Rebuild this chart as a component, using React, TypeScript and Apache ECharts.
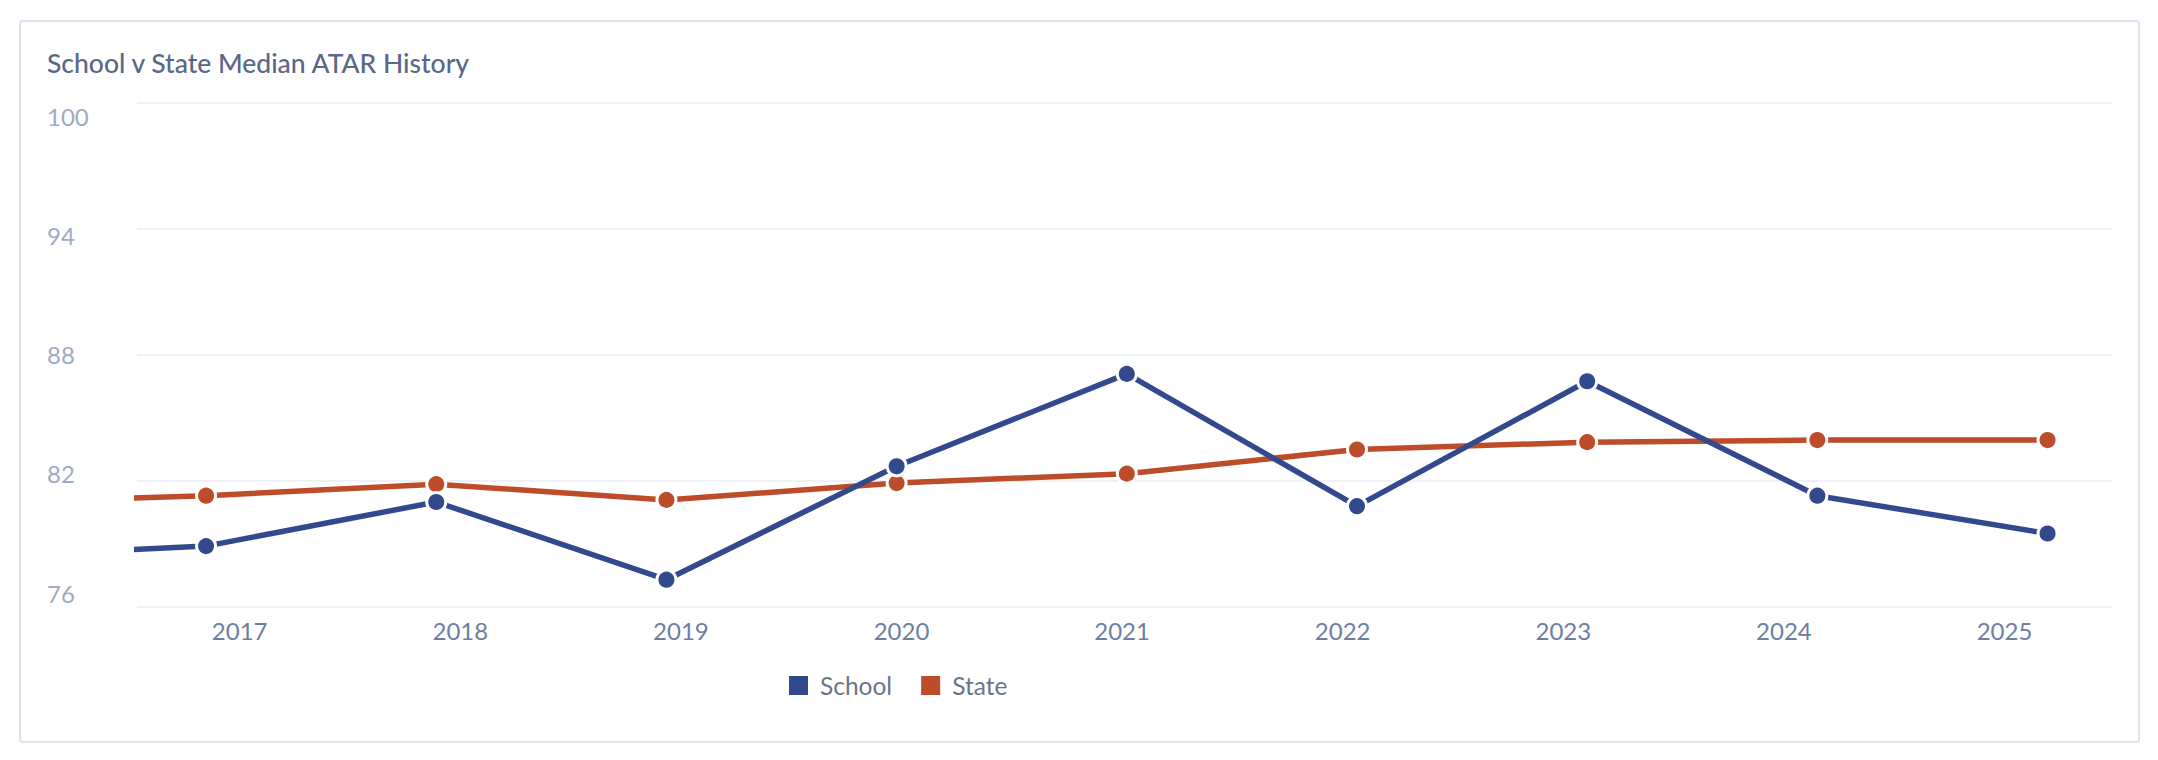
import React, { useEffect, useRef } from "react";
import * as echarts from "echarts";

// ---- data ----
const TITLE = "School v State Median ATAR History";
// 2016 value sits left of the visible window (the lines enter from the left edge)
const YEARS = [2016, 2017, 2018, 2019, 2020, 2021, 2022, 2023, 2024, 2025];
const X_LABELS = ["2017", "2018", "2019", "2020", "2021", "2022", "2023", "2024", "2025"];
const SCHOOL = [78.4, 78.9, 81.0, 77.3, 82.7, 87.1, 80.8, 86.75, 81.3, 79.5];
const STATE = [80.95, 81.3, 81.85, 81.1, 81.9, 82.35, 83.5, 83.85, 83.95, 83.95];
const Y_MIN = 76;
const Y_MAX = 100;
const Y_STEP = 6;
const X_MIN = 2016.7;
const X_MAX = 2025.28;

const SCHOOL_COLOR = "#324a8d";
const STATE_COLOR = "#bd4c2b";
const FONT = "Lato";

export default function App() {
  const ref = useRef<HTMLDivElement>(null);

  useEffect(() => {
    document.body.style.margin = "0";
    if (!ref.current) return;
    const chart = echarts.init(ref.current, undefined, { renderer: "svg" });

    const schoolData = YEARS.map((y, i) => [y, SCHOOL[i]]);
    const stateData = YEARS.map((y, i) => [y, STATE[i]]);

    chart.setOption({
      animation: false,
      backgroundColor: "#ffffff",
      textStyle: { fontFamily: FONT },
      title: {
        text: TITLE,
        left: 47,
        top: 49,
        padding: 0,
        textStyle: {
          fontFamily: FONT,
          fontSize: 26.5,
          fontWeight: 500,
          color: "#5a6888",
        },
      },
      graphic: [
        {
          type: "rect",
          silent: true,
          z: -10,
          shape: { x: 20, y: 21, width: 2119, height: 721, r: 3 },
          style: { fill: "none", stroke: "#dde3ee", lineWidth: 2 },
        },
      ],
      legend: {
        left: 789,
        top: 673,
        padding: 0,
        itemWidth: 19,
        itemHeight: 19,
        itemGap: 29,
        icon: "rect",
        itemStyle: { borderWidth: 0 },
        textStyle: {
          fontFamily: FONT,
          fontSize: 24.5,
          color: "#6b7589",
          padding: [0, 0, 0, 7],
        },
        data: ["School", "State"],
      },
      grid: [
        // plot area
        { left: 137, right: 46, top: 103, bottom: 153 },
        // x labels
        { left: 129.4, right: 43.2, top: 103, bottom: 153 },
        // y labels
        { left: 137, right: 46, top: 116, bottom: 167 },
      ],
      xAxis: [
        { type: "value", gridIndex: 0, min: X_MIN, max: X_MAX, show: false },
        {
          type: "category",
          gridIndex: 1,
          data: X_LABELS,
          boundaryGap: true,
          axisLine: { show: false },
          axisTick: { show: false },
          splitLine: { show: false },
          axisLabel: {
            margin: 11,
            fontFamily: FONT,
            fontSize: 24,
            color: "#6e7ea2",
          },
        },
        { type: "value", gridIndex: 2, show: false },
      ],
      yAxis: [
        {
          type: "value",
          gridIndex: 0,
          min: Y_MIN,
          max: Y_MAX,
          interval: Y_STEP,
          axisLine: { show: false },
          axisTick: { show: false },
          axisLabel: { show: false },
          splitLine: { lineStyle: { color: "#eef1f6", width: 2 } },
        },
        { type: "value", gridIndex: 1, show: false },
        {
          type: "value",
          gridIndex: 2,
          min: Y_MIN,
          max: Y_MAX,
          interval: Y_STEP,
          axisLine: { show: false },
          axisTick: { show: false },
          splitLine: { show: false },
          axisLabel: {
            align: "left",
            margin: 90,
            fontFamily: FONT,
            fontSize: 24,
            color: "#a0aac0",
          },
        },
      ],
      series: [
        {
          name: "School",
          type: "line",
          xAxisIndex: 0,
          yAxisIndex: 0,
          data: schoolData,
          symbol: "circle",
          symbolSize: 19,
          showAllSymbol: true,
          lineStyle: { color: SCHOOL_COLOR, width: 5.5 },
          itemStyle: { color: SCHOOL_COLOR, borderColor: "#ffffff", borderWidth: 3 },
          z: 3,
        },
        {
          name: "State",
          type: "line",
          xAxisIndex: 0,
          yAxisIndex: 0,
          data: stateData,
          symbol: "circle",
          symbolSize: 19,
          showAllSymbol: true,
          lineStyle: { color: STATE_COLOR, width: 5.5 },
          itemStyle: { color: STATE_COLOR, borderColor: "#ffffff", borderWidth: 3 },
          z: 2,
        },
      ],
    });

    return () => chart.dispose();
  }, []);

  return <div ref={ref} style={{ width: 2158, height: 760 }} />;
}
